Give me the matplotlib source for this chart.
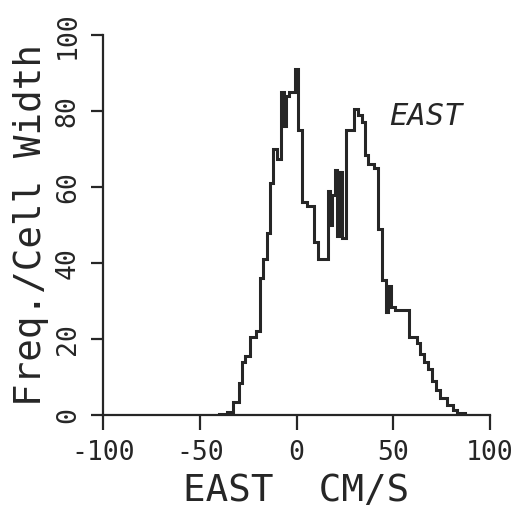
import numpy as np
import matplotlib.pyplot as plt

# bin edges (cm/s) and frequency per cell width
edges = [-40, -36, -33, -30, -28, -26.5, -24, -21, -19, -17.5, -15.5, -13.5,
         -12, -10, -8, -6.5, -5.5, -4, -1, 1, 3, 5.5, 9, 11, 16, 17.5, 18.5,
         20, 21, 22, 23.5, 25.5, 29.5, 32, 34, 35.5, 37, 40, 42, 44.4, 46,
         47.5, 49, 51, 54, 58, 62.5, 64, 66, 68, 70, 72, 74, 78, 81, 83, 87]
freq = [0.3, 0.8, 3.4, 8.4, 14, 15.5, 20.5, 22, 36, 41, 48, 61,
        70, 67.5, 85, 76, 84, 85, 91, 75, 56, 55, 45.5, 41, 59, 50,
        58, 64.5, 47, 64, 46.5, 75, 80.5, 79, 77, 68.5, 66, 65, 49,
        35.5, 27, 34, 28.5, 27.5, 27.6, 20.5, 19, 16, 14, 12, 9,
        6.5, 4.5, 2.6, 1.3, 0.5]

xticks = [-100, -50, 0, 50, 100]
yticks = [0, 20, 40, 60, 80, 100]

font = 'DejaVu Sans Mono'
ink = '#262626'

fig = plt.figure(figsize=(5.18, 5.16), dpi=100)
ax = fig.add_axes([0.199, 0.196, 0.747, 0.736])

ax.stairs(freq, edges, color=ink, linewidth=2.2)

ax.set_xlim(-100, 100)
ax.set_ylim(0, 100)
ax.set_xticks(xticks)
ax.set_yticks(yticks)
ax.set_xticklabels([str(v) for v in xticks], family=font, fontsize=19, color=ink)
ax.set_yticklabels([str(v) for v in yticks], family=font, fontsize=19, color=ink,
                   rotation=90, va='center')

for s in ['top', 'right']:
    ax.spines[s].set_visible(False)
for s in ['left', 'bottom']:
    ax.spines[s].set_linewidth(1.6)
    ax.spines[s].set_color(ink)
ax.tick_params(axis='x', direction='out', length=11, width=1.6, color=ink, pad=7)
ax.tick_params(axis='y', direction='out', length=9, width=1.6, color=ink, pad=7)

ax.set_xlabel('EAST  CM/S', family=font, fontsize=27, color=ink, labelpad=5)
ax.set_ylabel('Freq./Cell Width', family=font, fontsize=27, color=ink, labelpad=4)

ax.text(48, 78.5, 'EAST', family=font, style='italic', fontsize=22, color=ink,
        va='center')

fig.savefig('out.png', dpi=100)
